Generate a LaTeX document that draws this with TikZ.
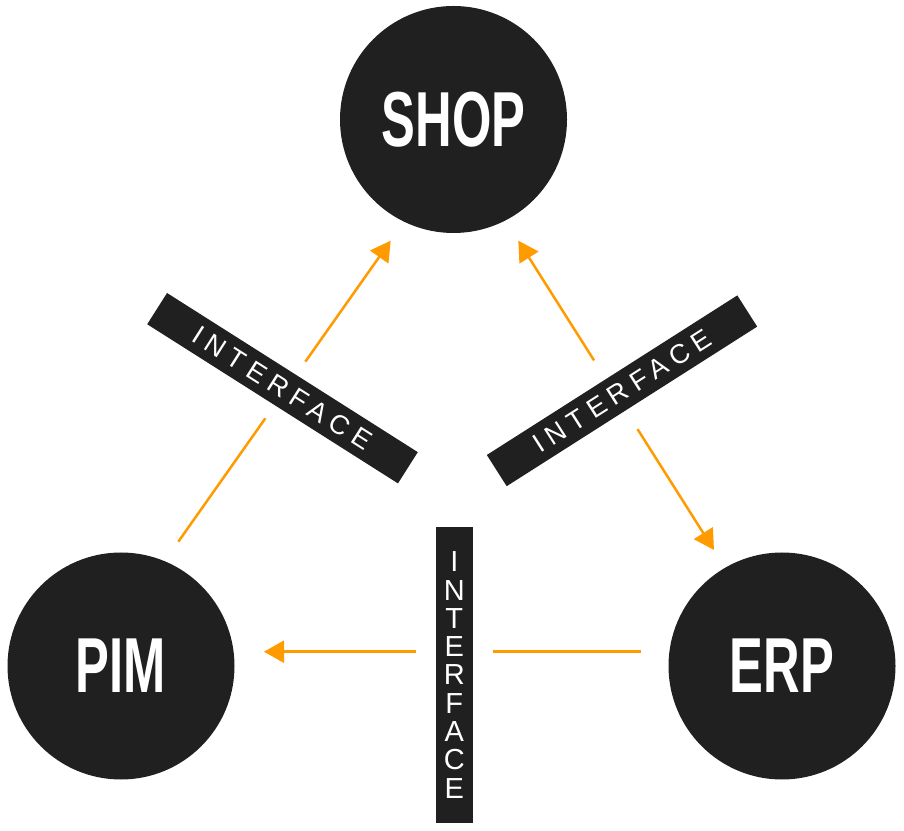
\documentclass[tikz,border=0pt]{standalone}
\usepackage{fontspec}
\usepackage{tikz}
\usetikzlibrary{arrows.meta}
\definecolor{disc}{HTML}{202020}
\definecolor{flow}{HTML}{FF9A00}
\newfontfamily\headfont[FakeStretch=0.65]{Liberation Sans}
\newfontfamily\ifacefont[LetterSpace=25]{Liberation Sans}
\newfontfamily\stackfont{Liberation Sans}
\tikzset{
  system/.style={circle,fill=disc,text=white,minimum size=227pt,inner sep=0pt,
    font=\headfont\bfseries\fontsize{78}{80}\selectfont},
  iface/.style={rectangle,fill=disc,text=white,minimum width=297pt,minimum height=37pt,
    inner sep=0pt,preaction={draw=white,line width=#1},
    font=\ifacefont\fontsize{27}{28}\selectfont},
  link/.style={flow,line width=2.5pt},
  >={Triangle[length=20pt,width=22pt]}
}

\begin{document}
\begin{tikzpicture}[x=1pt,y=1pt]
\useasboundingbox (0,0) rectangle (904,830);
\node[system] (shop) at (453.5,710.5) {SHOP};
\node[system] (pim) at (121,164) {PIM};
\node[system] (erp) at (782,164) {ERP};
\coordinate (pimout) at (178.3,288.3);
\coordinate (shopinL) at (390.7,589.3);
\coordinate (shopinR) at (518.3,589.3);
\coordinate (erpin) at (714,280);
\coordinate (erpout) at (640.7,178.3);
\coordinate (pimin) at (264,178.3);
\draw[link,->] (pimout) -- (shopinL);
\draw[link,<->] (shopinR) -- (erpin);
\draw[link,->] (erpout) -- (pimin);
\node[iface=32pt,rotate=-32.4] (ifaceL) at (282.5,441.8) {INTERFACE};
\node[iface=44pt,rotate=32.5] (ifaceR) at (622,439.2) {INTERFACE};
\node[iface=40pt,minimum width=37pt,minimum height=296pt,align=center,
  font=\stackfont\fontsize{29}{28.3}\selectfont] (ifaceB) at (454.3,155)
  {I\\N\\T\\E\\R\\F\\A\\C\\E};
\end{tikzpicture}
\end{document}
